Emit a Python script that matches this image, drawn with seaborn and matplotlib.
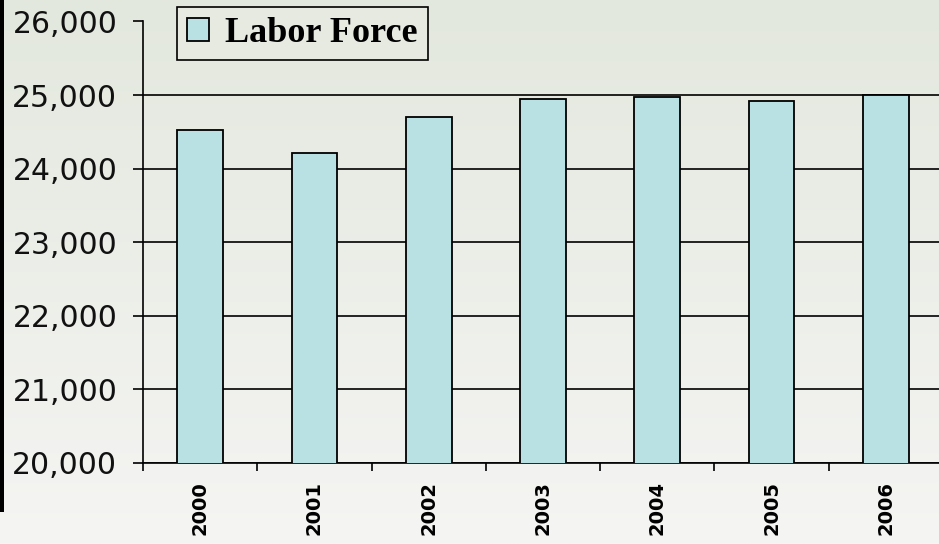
import numpy as np
import pandas as pd
import matplotlib
matplotlib.use("Agg")
import matplotlib.pyplot as plt
from matplotlib.ticker import FixedLocator, FuncFormatter
from matplotlib.patches import Rectangle
import seaborn as sns

years = ["2000", "2001", "2002", "2003", "2004", "2005", "2006"]
labor_force = [24525, 24210, 24700, 24940, 24975, 24920, 24995]
y_ticks = [20000, 21000, 22000, 23000, 24000, 25000, 26000]

df = pd.DataFrame({"year": years, "labor": labor_force})

sns.set_theme(style="white")
plt.rcParams["font.family"] = ["DejaVu Sans"]
plt.rcParams["text.color"] = "black"

W, H = 939, 544
fig = plt.figure(figsize=(W / 100, H / 100), dpi=100)

# soft vertical gradient backdrop
bg = fig.add_axes([0, 0, 1, 1], zorder=-10)
top_c = np.array([0xE3, 0xE8, 0xDE]) / 255
bot_c = np.array([0xF5, 0xF5, 0xF3]) / 255
t = np.linspace(0, 1, 256)[:, None, None]
grad = top_c * (1 - t) + bot_c * t
grad = np.repeat(grad, 4, axis=1)
bg.imshow(grad, aspect="auto", extent=[0, 1, 0, 1])
bg.add_patch(Rectangle((0, (H - 512) / H), 3.5 / W, 512 / H, color="black", lw=0))
bg.set_xlim(0, 1)
bg.set_ylim(0, 1)
bg.axis("off")

left, right = 143 / W, 943 / W
bottom, top = (H - 463) / H, (H - 21.5) / H
ax = fig.add_axes([left, bottom, right - left, top - bottom])
ax.patch.set_alpha(0)

sns.barplot(data=df, x="year", y="labor", ax=ax, width=0.4,
            color="#B9E0E3", saturation=1, edgecolor="black", linewidth=1.3,
            label="Labor Force", zorder=3)

ax.set_xlim(-0.5, len(years) - 0.5)
ax.set_ylim(y_ticks[0], y_ticks[-1])
ax.yaxis.set_major_locator(FixedLocator(y_ticks))
ax.yaxis.set_major_formatter(FuncFormatter(lambda v, p: f"{int(v):,}"))
ax.grid(axis="y", color="black", linewidth=1.2, zorder=0)
ax.set_axisbelow(True)
ax.set_xlabel("")
ax.set_ylabel("")

for s in ["top", "right"]:
    ax.spines[s].set_visible(False)
for s in ["left", "bottom"]:
    ax.spines[s].set_color("black")
    ax.spines[s].set_linewidth(1.2)

ax.tick_params(axis="y", direction="out", length=7.5, width=1.2, color="black",
               pad=11, labelsize=21.5, labelcolor="#111111", left=True)
ax.tick_params(axis="x", which="major", length=0, pad=13, labelcolor="black")
ax.xaxis.set_minor_locator(FixedLocator(np.arange(-0.5, len(years), 1.0)))
ax.tick_params(axis="x", which="minor", direction="out", length=5.5, width=1.2,
               color="black", bottom=True)
for lab in ax.get_xticklabels():
    lab.set_rotation(90)
    lab.set_fontweight("bold")
    lab.set_fontsize(14)
    lab.set_va("top")
    lab.set_ha("center")

leg = ax.legend(loc="upper left", bbox_to_anchor=(177 / W, 1 - 7 / H),
                bbox_transform=fig.transFigure, borderaxespad=0,
                frameon=True, fancybox=False, framealpha=1,
                prop={"family": "Liberation Serif", "weight": "bold", "size": 26},
                handlelength=0.6, handleheight=0.6, handletextpad=0.45,
                borderpad=0.28)
leg.get_frame().set_edgecolor("black")
leg.get_frame().set_linewidth(1.2)
leg.get_frame().set_facecolor("#E6EAE1")
for txt in leg.get_texts():
    txt.set_color("black")

fig.savefig("out.png", dpi=100)
